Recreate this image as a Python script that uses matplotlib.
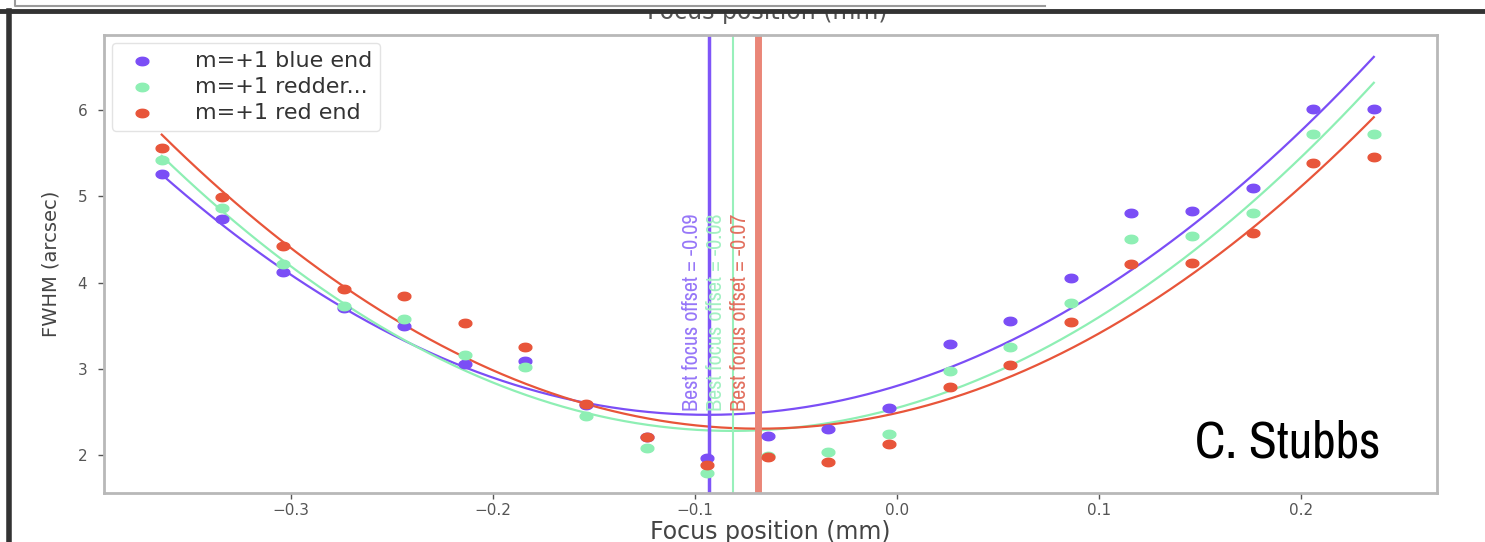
import numpy as np
import matplotlib
matplotlib.use('Agg')
import matplotlib.pyplot as plt
from matplotlib import font_manager as fm
from matplotlib.path import Path
from matplotlib.lines import Line2D
from matplotlib.patches import Rectangle

# focus positions (mm) and FWHM (arcsec)
focus = [-0.364, -0.334, -0.304, -0.274, -0.244, -0.214, -0.184, -0.154, -0.124, -0.094, -0.064,
         -0.034, -0.004, 0.026, 0.056, 0.086, 0.116, 0.146, 0.176, 0.206, 0.236]
fwhm_blue = [5.26, 4.74, 4.12, 3.70, 3.50, 3.06, 3.09, 2.58, 2.21, 1.97, 2.22,
             2.30, 2.54, 3.29, 3.56, 4.05, 4.81, 4.83, 5.10, 6.01, 6.01]
fwhm_green = [5.42, 4.87, 4.22, 3.73, 3.58, 3.16, 3.02, 2.45, 2.08, 1.79, 1.99,
              2.03, 2.24, 2.98, 3.25, 3.76, 4.50, 4.54, 4.81, 5.72, 5.72]
fwhm_red = [5.56, 4.99, 4.42, 3.93, 3.84, 3.53, 3.25, 2.59, 2.21, 1.88, 1.98,
            1.92, 2.13, 2.79, 3.04, 3.54, 4.22, 4.23, 4.57, 5.39, 5.45]
labels = ['m=+1 blue end', 'm=+1 redder...', 'm=+1 red end']
best_focus = [-0.093, -0.081, -0.069]

colors = ['#7b4ef6', '#8eefb4', '#e8553a']
vline_colors = ['#7f55f8', '#98f0bb', '#ea8678']
text_colors = ['#9676f8', '#a2f0c2', '#e2705f']
vline_widths = [2.5, 1.5, 5]

# look for a narrow face, fall back to DejaVu Sans
names = sorted({f.name for f in fm.fontManager.ttflist})
narrow = 'DejaVu Sans'
for n in names:
    if 'Narrow' in n or 'Condensed' in n:
        narrow = n
        break

# squashed dot, the screenshot is squeezed vertically
t = np.linspace(0, 2 * np.pi, 40)
dot = Path(np.column_stack([np.cos(t), 0.66 * np.sin(t)]))

fig = plt.figure(figsize=(14.85, 5.42), dpi=100)
ax = fig.add_axes([0.0700, 0.0904, 0.8977, 0.8450])

x = np.array(focus)
xx = np.linspace(x.min(), x.max(), 300)
for y, c, lab in zip([fwhm_blue, fwhm_green, fwhm_red], colors, labels):
    ax.scatter(x, y, s=85, marker=dot, color=c, label=lab, zorder=3)
    p = np.polyfit(x, y, 2)
    ax.plot(xx, np.polyval(p, xx), color=c, lw=1.6, zorder=2)

for bf, vc, lw, tc in zip(best_focus, vline_colors, vline_widths, text_colors):
    ax.axvline(bf, color=vc, lw=lw, zorder=2)
    ax.text(bf - 0.0085, 2.51, 'Best focus offset = %.2f' % bf, rotation=90,
            ha='center', va='bottom', color=tc, fontsize=16, family=narrow, zorder=4)

ax.set_xlim(-0.3926, 0.2673)
ax.set_ylim(1.56, 6.87)
ax.set_xticks([-0.3, -0.2, -0.1, 0.0, 0.1, 0.2])
ax.set_yticks([2, 3, 4, 5, 6])
ax.tick_params(colors='#555555', labelsize=11, length=4, width=1)
ax.tick_params(axis='y', pad=8)
for s in ax.spines.values():
    s.set_color('#b8b8b8')
    s.set_linewidth(2)
ax.set_xlabel('Focus position (mm)', fontsize=17, color='#444444', labelpad=1)
ax.set_ylabel('FWHM (arcsec)', fontsize=14, color='#444444', labelpad=12)

leg = ax.legend(loc='upper left', fontsize=16, frameon=True, borderpad=0.35,
                labelspacing=0.28, handletextpad=1.4, borderaxespad=0.35,
                bbox_to_anchor=(0.0, 1.0))
leg.get_frame().set_edgecolor('#dddddd')
for txt in leg.get_texts():
    txt.set_color('#333333')

fig.text(1195 / 1485, 1 - 457 / 542, 'C. Stubbs', fontsize=37, family=narrow,
         color='black', ha='left', va='baseline')

# bits of the slide frame around the plot
fig.text(767 / 1485, 1 - 12 / 542, 'Focus position (mm)', fontsize=17, color='#555555',
         ha='center', va='center')
fig.add_artist(Rectangle((0, 1 - 11 / 542), 1, 11 / 542, transform=fig.transFigure,
                         facecolor='white', edgecolor='none', zorder=5))
fig.add_artist(Line2D([15 / 1485, 15 / 1485, 1045 / 1485], [1, 1 - 6 / 542, 1 - 6 / 542],
                      transform=fig.transFigure, color='#9a9a9a', lw=1.5, zorder=6))
fig.add_artist(Line2D([0, 1], [1 - 11 / 542, 1 - 11 / 542], transform=fig.transFigure,
                      color='#333333', lw=3.5, zorder=7))
fig.add_artist(Line2D([9 / 1485, 9 / 1485], [0, 1 - 11 / 542], transform=fig.transFigure,
                      color='#333333', lw=4, zorder=7))

fig.savefig('out.png', dpi=100)
